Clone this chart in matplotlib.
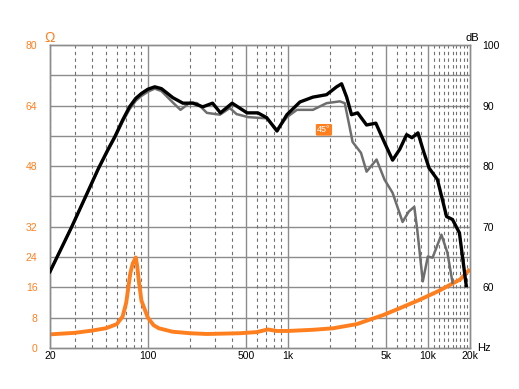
import numpy as np
import matplotlib
matplotlib.use("Agg")
import matplotlib.pyplot as plt

plt.rcParams['font.family'] = ['Liberation Sans', 'DejaVu Sans']

ORANGE = '#ff7f1e'
GRAY_CURVE = '#6e6e6e'
GRID = '#8c8c8c'

# on-axis SPL (dB)
spl_freq = [20, 28.6, 35.6, 44.3, 52, 58.2, 66, 74, 82, 90, 100, 112, 125, 151, 178, 210,
            247, 290, 330, 400, 511, 611, 707, 836, 985, 1220, 1510, 1890, 2230,
            2420, 2630, 2850, 3150, 3650, 4250, 4900, 5600, 6300, 7050, 7700, 8500,
            9300, 10200, 11700, 12700, 13600, 15000, 16800, 18800]
spl_0 = [62.6, 70.0, 74.8, 79.6, 82.8, 84.9, 87.6, 89.8, 91.2, 92.0, 92.7, 93.1, 92.8,
         91.3, 90.4, 90.4, 89.8, 90.4, 88.8, 90.4, 88.8, 88.8, 88.0, 85.8, 88.5, 90.6,
         91.4, 91.8, 93.1, 93.6, 91.4, 88.5, 88.8, 86.8, 87.1, 83.9, 81.0, 82.8, 85.2,
         84.7, 85.5, 82.5, 79.7, 77.8, 74.5, 71.7, 71.2, 69.0, 60.3]

# 45 degree SPL (dB)
spl45_freq = [20, 28.6, 35.6, 44.3, 52, 58.2, 66, 74, 82, 90, 100, 112, 125, 151, 171, 200,
              225, 264, 327, 385, 430, 520, 600, 707, 836, 985, 1160, 1510, 1890,
              2350, 2550, 2760, 2900, 3330, 3650, 4300, 4900, 5600, 6600, 7300, 8000,
              8400, 9200, 10000, 10800, 12500, 13800, 15000]
spl_45 = [62.6, 70.0, 74.7, 79.5, 82.6, 84.7, 87.3, 89.4, 90.8, 91.6, 92.3, 92.8, 92.4,
          90.5, 89.3, 90.5, 90.4, 88.8, 88.5, 89.6, 88.6, 88.1, 88.0, 87.9, 86.0, 88.1,
          89.3, 89.3, 90.4, 90.7, 90.4, 86.5, 84.0, 82.2, 79.1, 81.1, 77.8, 75.6, 70.8,
          72.5, 73.3, 69.5, 61.0, 65.1, 64.9, 68.7, 65.7, 60.8]

# impedance (ohm)
imp_freq = [20, 30, 40, 50, 60, 66, 70, 75, 78, 82, 84, 86, 90, 100, 110, 120, 150, 200,
            264, 345, 455, 600, 720, 830, 1000, 1500, 2100, 3100, 4800, 6300, 8700,
            12000, 17000, 20000]
imp = [3.6, 4.0, 4.6, 5.2, 6.3, 8.3, 11.9, 19.8, 22.3, 23.9, 21.5, 18.0, 12.5, 8.0, 6.0,
       5.2, 4.3, 3.9, 3.7, 3.8, 3.9, 4.2, 4.9, 4.5, 4.5, 4.8, 5.2, 6.3, 8.7, 10.5, 12.7,
       15.1, 18.1, 20.8]

x_ticks = [20, 100, 500, 1000, 5000, 10000, 20000]
x_labels = ['20', '100', '500', '1k', '5k', '10k', '20k']
ohm_ticks = [0, 8, 16, 24, 32, 48, 64, 80]
db_ticks = [60, 70, 80, 90, 100]

fig = plt.figure(figsize=(5.19, 3.89), dpi=100)
ax = fig.add_axes([50 / 519, 41 / 389, 420 / 519, 303 / 389])
ax2 = ax.twinx()

ax.set_xscale('log')
ax.set_xlim(20, 20000)
ax.set_ylim(0, 80)
ax2.set_ylim(50, 100)

# grid
for v in range(8, 80, 8):
    ax.axhline(v, color=GRID, lw=1.0, zorder=1)
solid = [100, 500, 1000, 5000, 10000]
for f in solid:
    ax.axvline(f, color=GRID, lw=1.0, zorder=1)
dashed = [f for d in (10, 100, 1000) for f in range(2 * d, 10 * d + 1, d)
          if 20 <= f <= 20000 and f not in solid]
dashed += list(range(11000, 20000, 1000))
for f in dashed:
    ax.axvline(f, color='#707070', lw=0.8, ls=(0, (3, 3)), zorder=1)

ax.plot(imp_freq, imp, color=ORANGE, lw=2.8, zorder=3, solid_capstyle='butt')
ax2.plot(spl45_freq, spl_45, color=GRAY_CURVE, lw=1.8, zorder=3)
ax2.plot(spl_freq, spl_0, color='black', lw=2.4, zorder=4)

ax.set_xticks(x_ticks)
ax.set_xticklabels(x_labels)
ax.xaxis.set_minor_locator(matplotlib.ticker.NullLocator())
ax.set_yticks(ohm_ticks)
ax.set_yticklabels([str(t) for t in ohm_ticks])
ax2.set_yticks(db_ticks)
ax.tick_params(axis='y', length=0, pad=9, labelsize=7.5, labelcolor=ORANGE)
ax.tick_params(axis='x', length=0, pad=2, labelsize=7.5)
ax2.tick_params(axis='y', length=0, pad=9, labelsize=7.5)

for a in (ax, ax2):
    for s in a.spines.values():
        s.set_color(GRID)
        s.set_linewidth(1.0)

fig.text(44 / 519, 1 - 38 / 389, 'Ω', color=ORANGE, fontsize=10, ha='left', va='center')
fig.text(465 / 519, 1 - 38 / 389, 'dB', color='black', fontsize=8, ha='left', va='center')
fig.text(477 / 519, 1 - 348 / 389, 'Hz', color='black', fontsize=8, ha='left', va='center')

ax2.text(1810, 86.0, '45°', color='white', fontsize=6.5, ha='center', va='center', zorder=5,
         bbox=dict(boxstyle='round,pad=0.15', fc=ORANGE, ec='none'))

fig.savefig('out.png', dpi=100)
